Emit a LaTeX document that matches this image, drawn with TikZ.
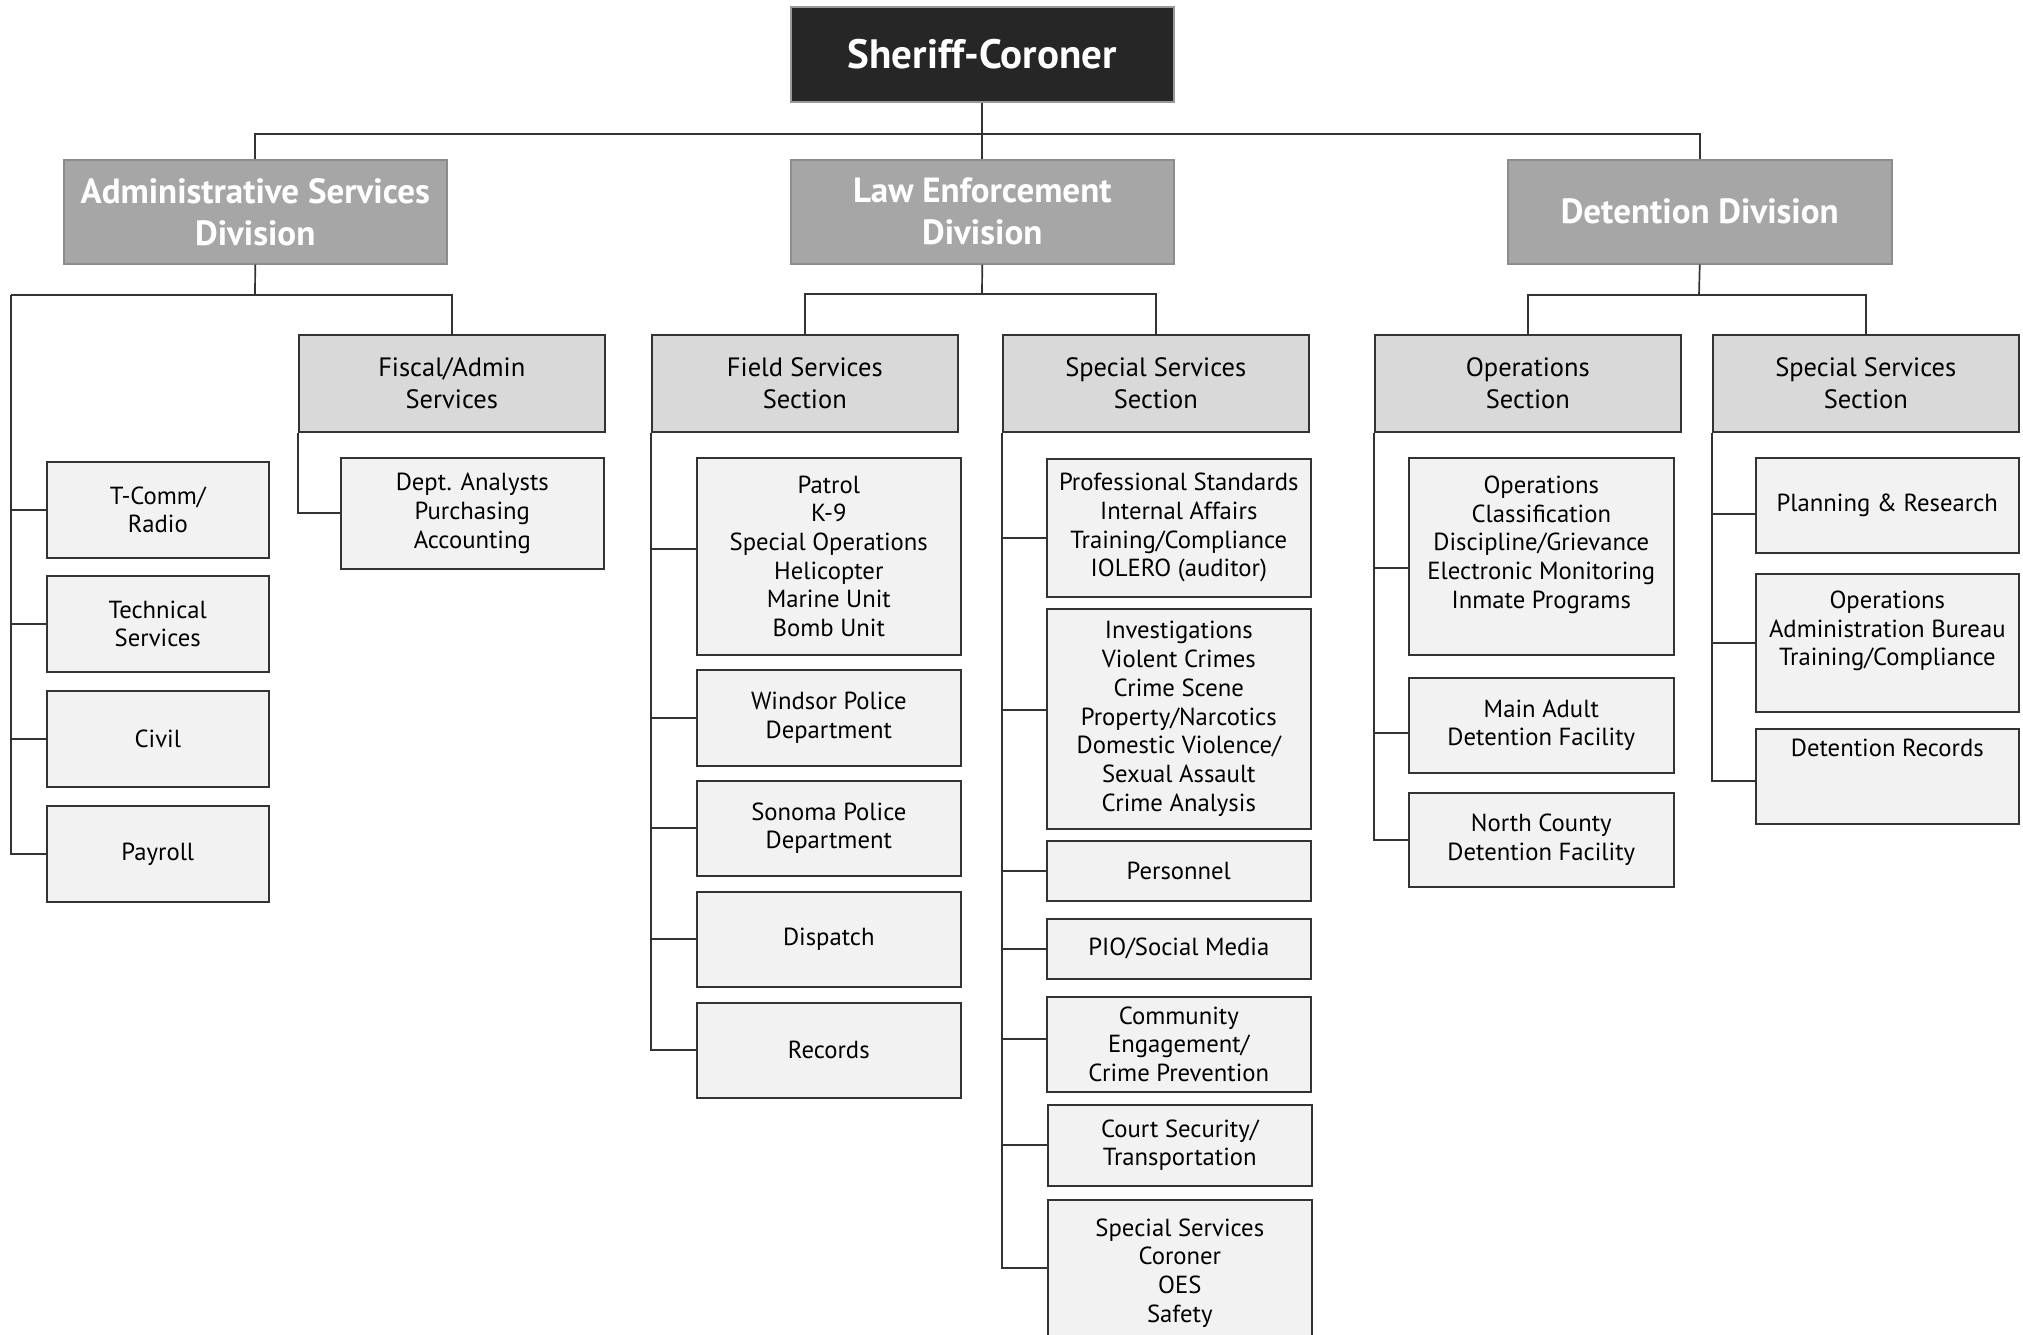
\documentclass[tikz,border=0pt]{standalone}
\usepackage{fontspec}
\setmainfont{PT Sans}
\definecolor{headfill}{HTML}{262626}
\definecolor{divfill}{HTML}{A6A6A6}
\definecolor{secfill}{HTML}{D9D9D9}
\definecolor{unitfill}{HTML}{F2F2F2}
\definecolor{edge}{HTML}{333333}
\tikzset{
  head/.style={draw=gray!80,line width=1.5pt,fill=headfill,text=white,font=\bfseries\fontsize{41}{48}\selectfont,inner sep=0pt},
  div/.style={draw=gray!90,line width=1.5pt,fill=divfill,text=white,font=\bfseries\fontsize{35}{42}\selectfont,align=center,inner sep=0pt},
  sec/.style={draw=edge,line width=1.6pt,fill=secfill,font=\fontsize{26.5}{32}\selectfont,align=center,inner sep=0pt},
  unit/.style={draw=edge,line width=1.6pt,fill=unitfill,font=\fontsize{24.7}{28.7}\selectfont,align=center,inner sep=0pt},
  link/.style={draw=edge,line width=1.7pt},
}
\begin{document}
\begin{tikzpicture}[x=1pt,y=-1pt]
\useasboundingbox (0,0) rectangle (2023,1334);
% top of the chart
\node[head,anchor=north west,minimum width=383,minimum height=95] (sher) at (790,6) {Sheriff-Coroner};
\foreach \n/\xa/\ya/\xb/\yb/\t in {asd/63/159/446/263/{Administrative Services\\Division},
  led/790/159/1173/263/{Law Enforcement\\Division},dd/1507/159/1891/263/{Detention Division}}
  \node[div,anchor=north west,minimum width=\xb-\xa,minimum height=\yb-\ya] (\n) at (\xa,\ya) {\t};
\foreach \n/\xa/\t in {fas/298/{Fiscal/Admin\\Services},fss/651/{Field Services\\Section},
  sss/1002/{Special Services\\Section},ops/1374/{Operations\\Section},dss/1712/{Special Services\\Section}}
  \node[sec,anchor=north west,minimum width=306,minimum height=97] (\n) at (\xa,334) {\t};
% units
\foreach \n/\xa/\ya/\xb/\yb/\t in {
  tcomm/46/461/268/557/{T-Comm/\\Radio},tech/46/575/268/671/{Technical\\Services},
  civ/46/690/268/786/{Civil},pay/46/805/268/901/{Payroll},
  dept/340/457/603/568/{Dept. Analysts\\Purchasing\\Accounting},
  pat/696/457/960/654/{Patrol\\K-9\\Special Operations\\Helicopter\\Marine Unit\\Bomb Unit},
  wpd/696/669/960/765/{Windsor Police\\Department},spd/696/780/960/875/{Sonoma Police\\Department},
  dis/696/891/960/986/{Dispatch},rec/696/1002/960/1097/{Records},
  prof/1046/458/1310/596/{Professional Standards\\Internal Affairs\\Training/Compliance\\IOLERO (auditor)},
  inv/1046/608/1310/828/{Investigations\\Violent Crimes\\Crime Scene\\Property/Narcotics\\Domestic Violence/\\Sexual Assault\\Crime Analysis},
  per/1046/840/1310/900/{Personnel},pio/1046/918/1310/978/{PIO/Social Media},
  com/1046/996/1310/1091/{Community\\Engagement/\\Crime Prevention},
  crt/1047/1104/1311/1185/{Court Security/\\Transportation},
  cor/1047/1199/1311/1345/{Special Services\\Coroner\\OES\\Safety},
  opd/1408/457/1673/654/{Operations\\Classification\\Discipline/Grievance\\Electronic Monitoring\\Inmate Programs\\\mbox{}},
  mad/1408/677/1673/772/{Main Adult\\Detention Facility},ncd/1408/792/1673/886/{North County\\Detention Facility},
  plan/1755/457/2018/552/{Planning \& Research},
  oab/1755/573/2018/711/{Operations\\Administration Bureau\\Training/Compliance\\\mbox{}},
  drec/1755/728/2018/823/{Detention Records\\\mbox{}\\\mbox{}}}
  \node[unit,anchor=north west,minimum width=\xb-\xa,minimum height=\yb-\ya] (\n) at (\xa,\ya) {\t};
% connectors
\coordinate (bus) at (982,134);
\coordinate (abus) at (255,295);
\coordinate (adml) at (11,295);
\coordinate (lbus) at (982,294);
\coordinate (dbus) at (1699,295);
\draw[link] (sher.south) -- (led.north);
\draw[link] (asd.north) |- (bus) -| (dd.north);
\draw[link] (asd.south) -- (abus);
\draw[link] (adml) -- (abus) -| (fas.north);
\draw[link] (led.south) -- (lbus);
\draw[link] (fss.north) |- (lbus) -| (sss.north);
\draw[link] (dd.south) -- (dbus);
\draw[link] (ops.north) |- (dbus) -| (dss.north);
\foreach \c in {tcomm,tech,civ,pay}
  \draw[link] (adml) |- (\c.west);
\foreach \p/\c/\dy in {fas/dept/0,fss/pat/7,fss/wpd/0,fss/spd/0,fss/dis/0,fss/rec/0,
  sss/prof/-10,sss/inv/9,sss/per/0,sss/pio/0,sss/com/5,sss/crt/0,sss/cor/5,
  ops/opd/-12,ops/mad/-8,ops/ncd/0,dss/plan/-9,dss/oab/0,dss/drec/-5}
  \draw[link] (\p.south west) |- ([yshift=\dy pt]\c.west);
\end{tikzpicture}
\end{document}
